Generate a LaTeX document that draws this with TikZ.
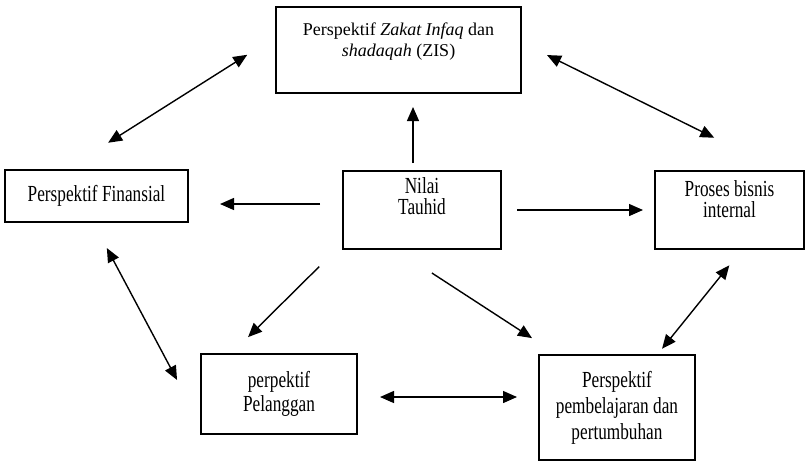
\documentclass[tikz,border=0pt]{standalone}
\usepackage{fontspec}
\setmainfont{Liberation Serif}
\newfontfamily\sempit{Liberation Serif}[FakeStretch=0.75]
\usetikzlibrary{arrows.meta}

\begin{document}
\begin{tikzpicture}[x=1pt, y=-1pt,
    kotak/.style={draw, line width=1.3pt, outer sep=0pt, inner sep=0pt, align=center,
      font=\sempit\fontsize{23}{24}\selectfont},
    teks/.style={align=center, inner sep=0pt, anchor=north,
      font=\sempit\fontsize{23}{21}\selectfont},
    panah/.style={line width=1.4pt, -{Triangle[length=14pt,width=12pt]}},
    dpanah/.style={line width=1.4pt, {Triangle[length=14pt,width=12pt]}-{Triangle[length=14pt,width=12pt]}}]

  \useasboundingbox (0,0) rectangle (807,461);

  % Kotak
  \node[kotak, minimum width=245pt, minimum height=86pt,
    label={[teks, font=\fontsize{18}{21}\selectfont, yshift=-16pt]north:Perspektif \textit{Zakat Infaq} dan\\\textit{shadaqah} (ZIS)}] (zis) at (398.5,50) {};
  \node[kotak, minimum width=183pt, minimum height=52pt] (finansial) at (96.5,196) {Perspektif Finansial};
  \node[kotak, minimum width=158pt, minimum height=78pt,
    label={[teks, yshift=-6pt]north:Nilai\\Tauhid}] (nilai) at (422,210) {};
  \node[kotak, minimum width=149pt, minimum height=78pt,
    label={[teks, yshift=-9pt]north:Proses bisnis\\internal}] (proses) at (729.5,210) {};
  \node[kotak, minimum width=156pt, minimum height=80pt] (pelanggan) at (279,394) {perpektif\\Pelanggan};
  \node[kotak, minimum width=156pt, minimum height=105pt,
    font=\sempit\fontsize{23}{26}\selectfont] (belajar) at (617,407.5) {Perspektif\\pembelajaran dan\\pertumbuhan};

  % Panah dari Nilai Tauhid
  \draw[panah, shorten <=8pt, shorten >=14pt] ([xshift=-9pt]nilai.north) -- ([xshift=-9pt]nilai.north |- zis.south);
  \draw[panah, shorten <=23pt, shorten >=32pt] ([yshift=6pt]nilai.west) -- ([yshift=6pt]nilai.west -| finansial.east);
  \draw[panah, shorten <=16pt, shorten >=12pt] (nilai.east) -- (proses.west);
  \draw[panah, shorten <=25pt, shorten >=24pt] ([xshift=-6pt]nilai.south west) -- ([xshift=30pt]pelanggan.north west);
  \draw[panah, shorten <=44pt, shorten >=31pt] ([xshift=-27pt]nilai.south) -- ([xshift=19pt]belajar.north west);

  % Panah dua arah
  \draw[dpanah, shorten <=23pt, shorten >=22pt] ([yshift=-3pt]pelanggan.east) -- ([yshift=-3pt]pelanggan.east -| belajar.west);
  \draw[dpanah, shorten <=8pt, shorten >=21pt] ([xshift=40pt]belajar.north) -- ([xshift=13pt]proses.south);
  \draw[dpanah, shorten <=29.5pt, shorten >=51pt] ([xshift=-3.5pt]finansial.south) -- ([yshift=9pt]pelanggan.south west);
  \draw[dpanah, shorten <=51pt, shorten >=34pt] ([xshift=-31.5pt]finansial.north) -- ([yshift=13.4pt]zis.west);
  \draw[dpanah, shorten <=29pt, shorten >=75pt] ([yshift=7.8pt]zis.east) -- ([xshift=52pt]proses.north);

\end{tikzpicture}
\end{document}
